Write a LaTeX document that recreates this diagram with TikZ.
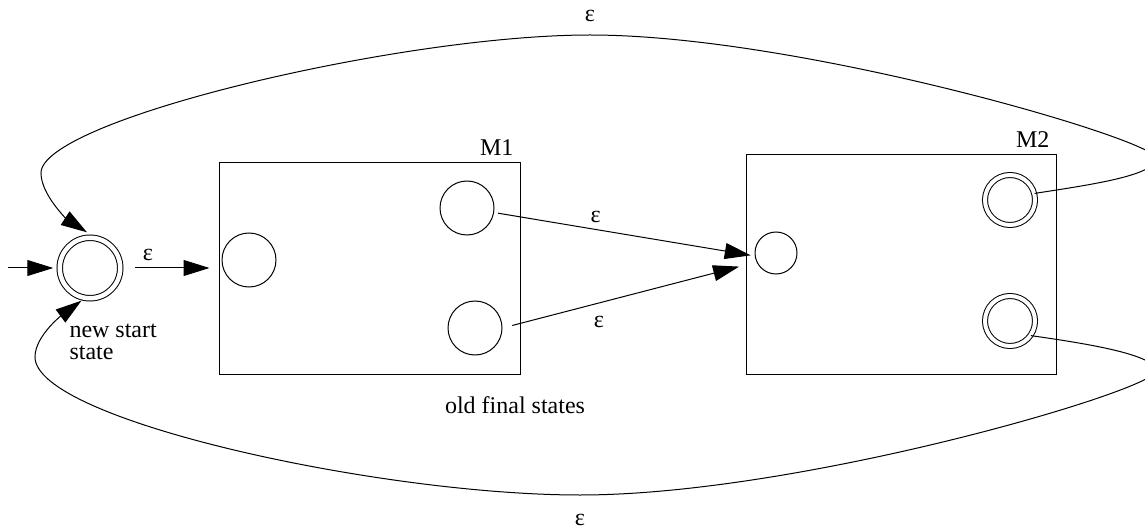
\documentclass[tikz,border=0pt]{standalone}
\usepackage{fontspec}
\setmainfont{Liberation Serif}
\usetikzlibrary{arrows.meta}

\begin{document}
\begin{tikzpicture}[x=0.5pt, y=-0.5pt, line width=0.5pt, >={Triangle[length=13pt, width=8pt]}, every node/.style={font=\fontsize{12}{11}\selectfont}]
    \tikzstyle{state} = [circle, draw, inner sep=0pt, minimum size=27pt]
    \tikzstyle{finalstate} = [circle, draw, double, double distance=2pt, inner sep=0pt, minimum size=25pt]
    \tikzstyle{machine} = [rectangle, draw, inner sep=0pt]
    \useasboundingbox (0,0) rectangle (1145,529);

    % Machines
    \node [machine, minimum width=150.5pt, minimum height=105.5pt] (m1) at (369.5,268.5) {};
    \node [machine, minimum width=155pt, minimum height=109.5pt] (m2) at (901,264.5) {};
    \node [above left] (m1name) at (m1.north east) {M1};
    \node [above left] (m2name) at (m2.north east) {M2};

    % New start state
    \node [state, double, double distance=2.25pt, minimum size=30.25pt] (start) at (90,268) {};
    \coordinate (entry) at (8,268);
    \node [anchor=north west, align=left, inner sep=0pt] (startname) at (69,323) {new start\\state};

    % States of M1
    \node [state] (m1s) at (249,260) {};
    \node [state] (m1a) at (467,208) {};
    \node [state] (m1b) at (475,328) {};
    \node (oldfinal) at (515,405) {old final states};

    % States of M2
    \node [state, minimum size=21pt] (m2s) at (776,253) {};
    \node [finalstate] (m2a) at (1010,200) {};
    \node [finalstate] (m2b) at (1010,321) {};

    % Connections
    \draw [->, shorten >=3pt] (entry) -- (start);
    \draw [->, shorten <=7pt, shorten >=6pt] (start) -- (start -| m1s.west) node [pos=0.27, above] {ε};
    \draw [->, shorten <=2pt, shorten >=2pt] (m1a) -- (m2s.188) node [pos=0.39, above] {ε};
    \draw [->, shorten <=5pt, shorten >=9pt] (m1b.east) -- (m2s.205) node [pos=0.38, below=3pt] {ε};

    % Loops back to the new start state
    \draw [->, shorten >=5pt] (m2a.15) .. controls (1096,184) and (1156,175) .. (1156,158)
        .. controls (1156,140) and (800,35) .. (590,35) node [above=3pt] {ε}
        .. controls (400,35) and (41,120) .. (41,173)
        .. controls (41,195) and (68,220) .. (start.80);
    \draw [->, shorten >=2pt] (m2b.-35) .. controls (1090,344) and (1156,355) .. (1156,371)
        .. controls (1156,390) and (800,495) .. (580,495) node [below=6pt] {ε}
        .. controls (380,495) and (35,420) .. (35,357)
        .. controls (35,335) and (64.7,313) .. (start.-100);
\end{tikzpicture}
\end{document}
